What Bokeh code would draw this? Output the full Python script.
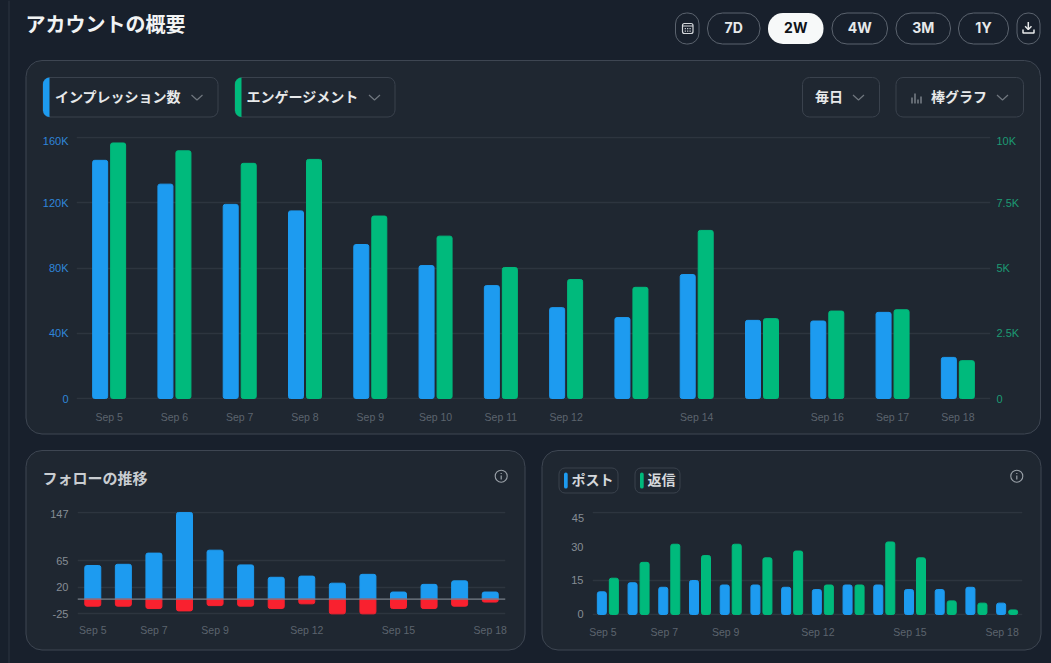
from bokeh.embed import file_html
from bokeh.resources import INLINE
from bokeh.plotting import figure
from bokeh.layouts import column, row
from bokeh.core.properties import value
from bokeh.models import Range1d, LinearAxis, FixedTicker, Span

# ---------- data ----------
days = ["Sep 5", "Sep 6", "Sep 7", "Sep 8", "Sep 9", "Sep 10", "Sep 11", "Sep 12",
        "Sep 13", "Sep 14", "Sep 15", "Sep 16", "Sep 17", "Sep 18"]
impressions = [146000, 131400, 119000, 115000, 94400, 81500, 69200, 55700,
               49600, 76000, 47900, 47500, 52800, 25200]
engagements = [9790, 9490, 9010, 9160, 6990, 6220, 5020, 4560,
               4260, 6440, 3060, 3350, 3400, 1450]
main_day_labels = ["Sep 5", "Sep 6", "Sep 7", "Sep 8", "Sep 9", "Sep 10", "Sep 11",
                   "Sep 12", "Sep 14", "Sep 16", "Sep 17", "Sep 18"]
imp_ticks = [0, 40000, 80000, 120000, 160000]
imp_labels = ["0", "40K", "80K", "120K", "160K"]
eng_ticks = [0, 2500, 5000, 7500, 10000]
eng_labels = ["0", "2.5K", "5K", "7.5K", "10K"]

follows_gained = [57, 59, 78, 147, 83, 58, 37, 39, 27, 42, 12, 25, 31, 12]
follows_lost = [-12, -12, -16, -20, -11, -12, -16, -8, -25, -25, -16, -16, -12, -5]
follow_ticks = [-25, 20, 65, 147]
small_day_labels = ["Sep 5", "Sep 7", "Sep 9", "Sep 12", "Sep 15", "Sep 18"]

posts = [10, 14, 12, 15, 13, 13, 12, 11, 13, 13, 11, 11, 12, 5]
replies = [16, 23, 31, 26, 31, 25, 28, 13, 13, 32, 25, 6, 5, 2]
post_ticks = [0, 15, 30, 45]
post_grid_ticks = [0, 15, 45]

range_buttons = ["7D", "2W", "4W", "3M", "1Y"]

# ---------- style ----------
BLUE, GREEN, RED = "#1d9bf0", "#00ba7c", "#f9212f"
PANEL, BORDER, GRID = "#1f2731", "#3e4652", "#2d353f"
PAGE, SIDE = "#18202c", "#2d3541"
TICK = "#5c646e"
AX_BLUE, AX_GREEN, AX_GRAY = "#2f86d9", "#1c9a73", "#868d95"
LATIN, CJK = "Liberation Sans", "Noto Sans CJK JP"
xpos = list(range(14))
idx = {d: i for i, d in enumerate(days)}


def chart(w, h, ml, mr, mt, mb, yr):
    p = figure(width=w, height=h, output_backend="svg", toolbar_location=None,
               x_range=Range1d(-0.5, 13.5), y_range=Range1d(*yr),
               min_border_left=ml, min_border_right=mr, min_border_top=mt, min_border_bottom=mb,
               border_fill_color=None, background_fill_color=None, outline_line_color=None)
    p.xgrid.visible = False
    p.ygrid.grid_line_color = GRID
    p.ygrid.grid_line_width = 1.5
    return p


def style_axis(ax, color=TICK, size="11px", standoff=8):
    ax.axis_line_color = None
    ax.major_tick_line_color = None
    ax.minor_tick_line_color = None
    ax.major_tick_out = 0
    ax.major_tick_in = 0
    ax.minor_tick_out = 0
    ax.major_label_text_color = color
    ax.major_label_text_font = LATIN
    ax.major_label_text_font_size = size
    ax.major_label_standoff = standoff


# ---------- chrome layer: a full-window figure whose scales are window pixels ----------
chrome = figure(width=1051, height=663, output_backend="svg", toolbar_location=None,
                x_range=Range1d(0, 1051), y_range=Range1d(663, 0), min_border=0,
                x_axis_location=None, y_axis_location=None,
                border_fill_color=PAGE, background_fill_color=PAGE, outline_line_color=None)
chrome.grid.visible = False


def box(l, r, t, b, fill=None, line=None, radius=0, lw=1):
    chrome.quad(left=[l], right=[r], top=[t], bottom=[b], fill_color=fill or PAGE, fill_alpha=1 if fill else 0,
                line_color=line or PAGE, line_alpha=1 if line else 0, line_width=lw, border_radius=radius)


def txt(x, y, s, size, color="#e7e9ea", font=CJK, style="bold", align="center"):
    chrome.text(x=[x], y=[y], text=[s], text_font=value(font), text_font_size=size, text_color=color,
                text_font_style=style, text_align=align, text_baseline="middle")


def stroke(xs, ys, color, lw=1.2):
    chrome.line(xs, ys, line_color=color, line_width=lw)


def chevron(cx, cy, color="#6f767e"):
    stroke([cx - 5.5, cx, cx + 5.5], [cy - 2.5, cy + 2.5, cy - 2.5], color, 1.2)


def info(cx, cy):
    c = "#9aa1a8"
    chrome.circle(x=[cx], y=[cy], radius=6, fill_alpha=0, line_color=c, line_width=1.1)
    stroke([cx, cx], [cy - 0.8, cy + 3.2], c, 1.2)
    stroke([cx, cx], [cy - 3.3, cy - 2.2], c, 1.2)


stroke([8.5, 8.5], [0, 663], SIDE, 1)
txt(25, 22.5, "アカウントの概要", "20px", "#f1f3f4", CJK, "bold", "left")

box(25.5, 1040, 60, 433.5, PANEL, BORDER, 16)
box(25.5, 524.5, 450, 649.5, PANEL, BORDER, 16)
box(541.5, 1040.5, 450, 649.5, PANEL, BORDER, 16)

buttons = [(707, 759.5), (767.5, 823), (831.5, 887), (895.5, 950), (958, 1008)]
for (l, r), s in zip(buttons, range_buttons):
    active = s == "2W"
    box(l, r, 12.5, 43.5, "#f7f9f9" if active else None, None if active else "#5b636e", 15, 1)
    txt((l + r) / 2, 27.3, s, "14px", "#0f1419" if active else "#e7e9ea", "Inter", "bold")
for l, r in [(675, 698.5), (1016.5, 1039.5)]:
    box(l, r, 12.5, 43.5, None, "#5b636e", 11, 1)
# calendar icon
box(682, 692.5, 23, 33, None, "#d5d8dc", 2, 1.2)
stroke([682, 692.5], [25.5, 25.5], "#d5d8dc", 1.2)
for cx in (684.8, 687.2, 689.6):
    for cy in (28.2, 30.6):
        stroke([cx - 0.6, cx + 0.6], [cy, cy], "#d5d8dc", 1.2)
# download icon
dc = "#e7e9ea"
stroke([1027.8, 1027.8], [21.5, 29], dc, 1.5)
stroke([1024.6, 1027.8, 1031], [25.8, 29, 25.8], dc, 1.5)
stroke([1022.5, 1022.5, 1033.5, 1033.5], [29, 32.5, 32.5, 29], dc, 1.5)
# dropdowns
for l, r, col, s, cx, chev in [(42.5, 217.5, BLUE, "インプレッション数", 117.5, 196.5),
                               (234.5, 394.5, GREEN, "エンゲージメント", 302, 374)]:
    box(l, r, 77, 116.5, None, "#3a424d", 7, 1)
    box(l, l + 6.5, 77, 116.5, col, None, (7, 0, 0, 7), 0)
    txt(cx, 95.5, s, "14px")
    chevron(chev, 97)
for l, r in [(802, 879), (895.5, 1023)]:
    box(l, r, 77, 116.5, None, "#3a424d", 7, 1)
txt(828.5, 95.5, "毎日", "14px")
chevron(858, 97)
txt(958.5, 95.5, "棒グラフ", "14px")
chevron(1002, 97)
for bx, bt in [(911.5, 97), (914.5, 93), (917.5, 99), (920.5, 96)]:
    stroke([bx, bx], [bt, 103], "#9aa1a8", 1.1)

txt(42, 476.5, "フォローの推移", "15px", "#c9cdd1", CJK, "bold", "left")
info(500.7, 475.7)
info(1016.3, 475.7)
for l, r, col, s, tx in [(558.5, 617.5, BLUE, "ポスト", 571), (634.5, 679.5, GREEN, "返信", 647)]:
    box(l, r, 467.5, 492.5, None, "#3a424d", 6, 1)
    box(l + 5, l + 8.7, 472, 488, col, None, 2, 0)
    txt(tx, 478.5, s, "14px", "#d5d8dc", CJK, "bold", "left")

# top tick labels sit below their grid lines in the reference
txt(68, 140.5, imp_labels[-1], "11px", AX_BLUE, LATIN, "normal", "right")
txt(996, 140.5, eng_labels[-1], "11px", AX_GREEN, LATIN, "normal", "left")
txt(68, 513.5, str(follow_ticks[-1]), "11px", AX_GRAY, LATIN, "normal", "right")
txt(583.5, 517, str(post_ticks[-1]), "11px", AX_GRAY, LATIN, "normal", "right")

# ---------- main chart ----------
main = chart(1051, 440, 76, 61, 136, 41, (-613, 160613))
main.extra_y_ranges["eng"] = Range1d(-38, 10038)
w_main = 15 / 65.3
off_main = 9 / 65.3
main.vbar(x=[i - off_main for i in xpos], top=impressions, width=w_main, color=BLUE, border_radius=2)
main.vbar(x=[i + off_main for i in xpos], top=engagements, width=w_main, color=GREEN, border_radius=2,
          y_range_name="eng")
main.xaxis.ticker = FixedTicker(ticks=[idx[d] for d in main_day_labels])
main.xaxis.major_label_overrides = {idx[d]: d for d in main_day_labels}
style_axis(main.xaxis[0], TICK, "10.5px", 11)
main.yaxis.ticker = FixedTicker(ticks=imp_ticks)
main.yaxis.major_label_overrides = {t: (l if t != imp_ticks[-1] else "") for t, l in zip(imp_ticks, imp_labels)}
style_axis(main.yaxis[0], AX_BLUE)
right_ax = LinearAxis(y_range_name="eng", ticker=FixedTicker(ticks=eng_ticks),
                      major_label_overrides={t: (l if t != eng_ticks[-1] else "") for t, l in zip(eng_ticks, eng_labels)})
style_axis(right_ax, AX_GREEN, "11px", 6)
main.add_layout(right_ax, "right")

# ---------- follower chart ----------
left = chart(533, 223, 77, 28, 64, 44, (-27.8, 148.6))
w_small = 16 / 30.6
left.vbar(x=xpos, top=follows_gained, width=w_small, color=BLUE, border_radius=(2, 2, 0, 0))
left.vbar(x=xpos, bottom=follows_lost, top=[0] * 14, width=w_small, color=RED, border_radius=(0, 0, 2, 2))
left.xaxis.ticker = FixedTicker(ticks=[idx[d] for d in small_day_labels])
left.xaxis.major_label_overrides = {idx[d]: d for d in small_day_labels}
style_axis(left.xaxis[0], TICK, "10.5px", 8)
left.yaxis.ticker = FixedTicker(ticks=follow_ticks)
left.yaxis.major_label_overrides = {t: ("" if t == follow_ticks[-1] else str(t)) for t in follow_ticks}
style_axis(left.yaxis[0], AX_GRAY, "11px", 9)
left.add_layout(Span(location=0, dimension="width", line_color="#78808a", line_width=1.2, level="overlay"))

# ---------- posts chart ----------
rightp = chart(518, 223, 59, 29, 71, 48, (-0.45, 45.45))
rightp.ygrid.ticker = FixedTicker(ticks=post_grid_ticks)
w_post = 9 / 30.7
off_post = 6 / 30.7
rightp.vbar(x=[i - off_post for i in xpos], top=posts, width=w_post, color=BLUE, border_radius=2)
rightp.vbar(x=[i + off_post for i in xpos], top=replies, width=w_post, color=GREEN, border_radius=2)
shift = -5 / 30.7
rightp.xaxis.ticker = FixedTicker(ticks=[idx[d] + shift for d in small_day_labels])
rightp.xaxis.major_label_overrides = {idx[d] + shift: d for d in small_day_labels}
style_axis(rightp.xaxis[0], TICK, "10.5px", 10)
rightp.yaxis.ticker = FixedTicker(ticks=post_ticks)
rightp.yaxis.major_label_overrides = {t: ("" if t == post_ticks[-1] else str(t)) for t in post_ticks}
style_axis(rightp.yaxis[0], AX_GRAY, "11px", 9)

charts = column(main, row(left, rightp, spacing=0), spacing=0, margin=(-663, 0, 0, 0))
layout = column(chrome, charts, spacing=0)
css = "<style>html,body{background:%s;overflow:hidden}</style>" % PAGE
html = file_html(layout, INLINE).replace("<head>", "<head>" + css, 1)
open("out.html", "w").write(html)
